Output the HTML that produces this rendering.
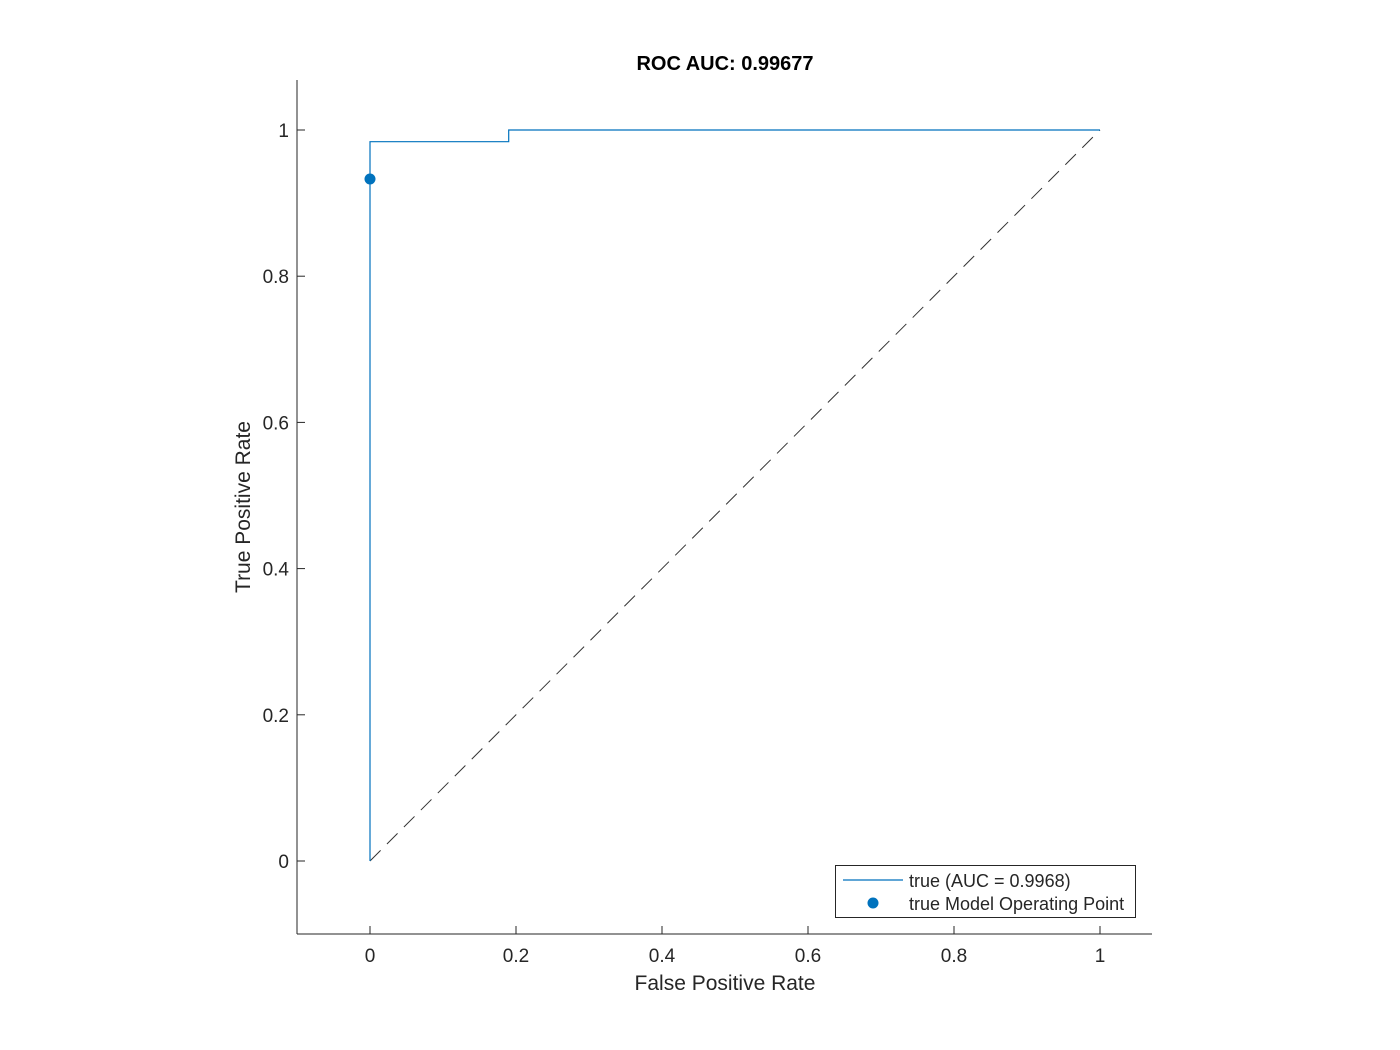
<!DOCTYPE html>
<html><head><meta charset="utf-8"><style>body{margin:0;background:#fff}svg{display:block}text{font-family:"Liberation Sans",sans-serif;fill:#262626}</style></head>
<body>
<svg id="c" width="1400" height="1050"></svg>
<script>
const rocFPR=[0,0,0.19,0.19,1];
const rocTPR=[0,0.984,0.984,1,1];
const opFPR=[0];
const opTPR=[0.933];
const xTicks=[0,0.2,0.4,0.6,0.8,1];
const yTicks=[0,0.2,0.4,0.6,0.8,1];
const xTickLabels=["0","0.2","0.4","0.6","0.8","1"];
const yTickLabels=["0","0.2","0.4","0.6","0.8","1"];
const X=v=>370+v*730, Y=v=>861-v*731;
const s=document.getElementById('c'),NS='http://www.w3.org/2000/svg';
function el(t,a,p){const e=document.createElementNS(NS,t);for(const k in a)e.setAttribute(k,a[k]);(p||s).appendChild(e);return e;}
let e;
e=el('line',{x1:297,y1:934,x2:1152,y2:934,stroke:'#262626'});


e=el('line',{x1:297,y1:80,x2:297,y2:934,stroke:'#262626'});


xTicks.forEach((v,i)=>{
 e=el('line',{x1:X(v),y1:934,x2:X(v),y2:926,stroke:'#262626'});
 
 
 e=el('text',{x:X(v),y:962,'font-size':19,'text-anchor':'middle'});e.textContent=xTickLabels[i];
 
 
});
yTicks.forEach((v,i)=>{
 e=el('line',{x1:297,y1:Y(v),x2:305,y2:Y(v),stroke:'#262626'});
 
 
 e=el('text',{x:289,y:Y(v)+7,'font-size':19,'text-anchor':'end'});e.textContent=yTickLabels[i];
 
 
});
e=el('line',{x1:X(0),y1:Y(0),x2:X(1),y2:Y(1),stroke:'#333','stroke-width':1,'stroke-dasharray':'15,9'});


e=el('polyline',{points:rocFPR.map((f,i)=>X(f)+','+Y(rocTPR[i])).join(' '),fill:'none',stroke:'#0072BD','stroke-width':1.2});


opFPR.forEach((f,i)=>{
 e=el('circle',{cx:X(f),cy:Y(opTPR[i]),r:5.5,fill:'#0072BD'});
 
 
});
e=el('text',{x:725,y:70,'font-size':20,'font-weight':'bold','text-anchor':'middle'});e.textContent='ROC AUC: 0.99677';e.style.fill='#000';


e=el('text',{x:725,y:990,'font-size':21,'text-anchor':'middle'});e.textContent='False Positive Rate';


e=el('text',{x:250,y:507,'font-size':21,'text-anchor':'middle',transform:'rotate(-90 250 507)'});e.textContent='True Positive Rate';


const g=el('g',{});


el('rect',{x:835.5,y:865.5,width:300,height:52,fill:'#fff',stroke:'#262626'},g);
e=el('line',{x1:843,y1:880,x2:903,y2:880,stroke:'#0072BD','stroke-width':1.2},g);


e=el('text',{x:909,y:887,'font-size':18},g);e.textContent='true (AUC = 0.9968)';


e=el('circle',{cx:873,cy:903,r:5.5,fill:'#0072BD'},g);


e=el('text',{x:909,y:910,'font-size':18},g);e.textContent='true Model Operating Point';


</script>
</body></html>
